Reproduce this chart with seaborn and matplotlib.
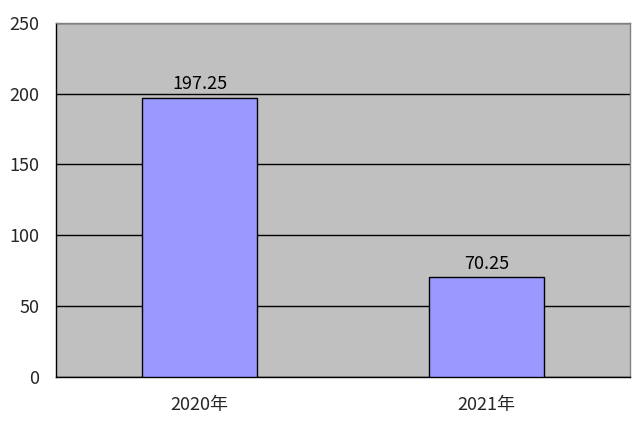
import matplotlib
matplotlib.use("Agg")
import matplotlib.pyplot as plt
import seaborn as sns

years = ["2020年", "2021年"]
values = [197.25, 70.25]
yticks = [0, 50, 100, 150, 200, 250]

sns.set_style("white")
plt.rcParams["font.family"] = ["Noto Sans CJK SC", "DejaVu Sans"]

fig = plt.figure(figsize=(6.4, 4.23), dpi=100)
ax = fig.add_axes([0.0875, 0.109, 0.897, 0.837])
ax.set_facecolor("#C0C0C0")

sns.barplot(x=years, y=values, color="#9999FF", edgecolor="black",
            linewidth=1, width=0.4, saturation=1, ax=ax, zorder=3)

for i, v in enumerate(values):
    ax.text(i, v + 3, f"{v:.2f}", ha="center", va="bottom", fontsize=13, color="black")

ax.set_xlim(-0.5, 1.5)
ax.set_ylim(0, 250)
ax.set_yticks(yticks)
ax.yaxis.grid(True, color="black", linewidth=1)
ax.set_axisbelow(True)

ax.tick_params(axis="y", direction="in", length=4, labelsize=13, pad=12)
ax.tick_params(axis="x", which="major", length=0, labelsize=13, pad=14)
ax.set_xticks([0.5], minor=True)
ax.tick_params(axis="x", which="minor", direction="in", length=5, color="black")

for side in ["left", "bottom"]:
    ax.spines[side].set_color("black")
    ax.spines[side].set_linewidth(1)
for side in ["top", "right"]:
    ax.spines[side].set_color("#808080")
    ax.spines[side].set_linewidth(1)
    ax.spines[side].set_visible(True)

ax.set_xlabel("")
ax.set_ylabel("")

fig.savefig("out.png", dpi=100)
